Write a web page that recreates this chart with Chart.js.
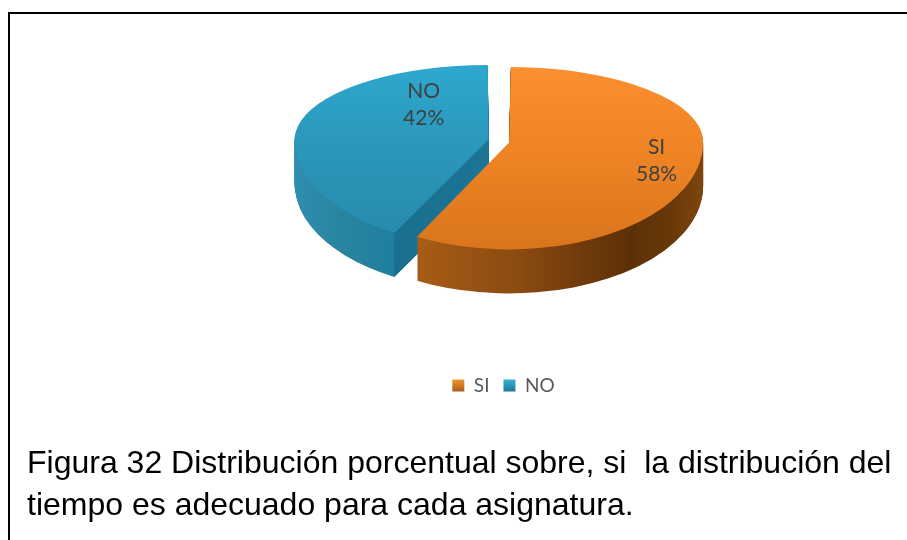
<!DOCTYPE html>
<html><head><meta charset="utf-8">
<style>
html,body{margin:0;padding:0;background:#fff;overflow:hidden}
#wrap{position:relative;width:907px;height:540px;overflow:hidden}
#frameTop{position:absolute;left:8px;top:12px;width:899px;height:2px;background:#000}
#frameLeft{position:absolute;left:8px;top:12px;width:2px;height:528px;background:#000}
canvas{position:absolute;left:0;top:0}
#caption{position:absolute;left:27px;top:441px;width:880px;font:32px/42px "Liberation Sans",Arial,sans-serif;color:#000;white-space:pre}
</style></head><body>
<div id="wrap">
<div id="frameTop"></div><div id="frameLeft"></div>
<canvas id="c" width="907" height="540"></canvas>
<div id="caption">Figura 32 Distribución porcentual sobre, si  la distribución del
tiempo es adecuado para cada asignatura.</div>
</div>
<script src="https://cdn.jsdelivr.net/npm/chart.js@4/dist/chart.umd.min.js"></script>
<script>
const categories = ['SI', 'NO'];
const percentValues = [58, 42];
const sliceOffsets = [37, 37];

// placement of the squashed pie on the page
const pie = {x: 499, y: 141, rx: 194, ryTop: 75, ryBottom: 107, depth: 44};
const labelPlace = [[0.76, 0.18], [-0.335, -0.48]];

function effRadius(el) {
  const fix = 1 - Math.sin(Math.min(Math.PI, el.circumference));
  return el.outerRadius + el.options.offset / 4 * fix;
}
function hGrad(ctx, el, stops) {
  const sx = pie.rx / effRadius(el);
  const mid = (el.startAngle + el.endAngle) / 2;
  const shift = Math.cos(mid) * el.options.offset / 4;
  const a = stops[0][0], b = stops[stops.length - 1][0];
  const g = ctx.createLinearGradient(el.x + (a - pie.x) / sx - shift, 0, el.x + (b - pie.x) / sx - shift, 0);
  stops.forEach(s => g.addColorStop((s[0] - a) / (b - a), s[1]));
  return g;
}
const sideStops = [
  [[417, '#a85c16'], [520, '#8a4a10'], [630, '#5c3007'], [670, '#683809'], [703, '#7e450e']],
  [[295, '#2f8db0'], [340, '#28859f'], [393, '#217f9f'], [395, '#1a6f8e'], [489, '#1d7494']]
];
function topFill(context) {
  const chart = context.chart, area = chart.chartArea;
  if (!area) return '#f79646';
  const g = chart.ctx.createLinearGradient(0, area.top, 0, area.bottom);
  if (context.dataIndex === 0) {
    g.addColorStop(0, '#fa9030'); g.addColorStop(0.55, '#ee8424'); g.addColorStop(1, '#d9741c');
  } else {
    g.addColorStop(0, '#2fa9d0'); g.addColorStop(1, '#2688a8');
  }
  return g;
}

const squash3D = {
  id: 'squash3D',
  beforeDatasetsDraw(chart) {
    const ctx = chart.ctx, arcs = chart.getDatasetMeta(0).data;
    const paint = (el, dy) => {
      const r = effRadius(el);
      const splitY = pie.y + dy;
      [[0, splitY, pie.ryTop], [splitY, 540 - splitY, pie.ryBottom]].forEach(([top, h, ry]) => {
        ctx.save();
        ctx.beginPath(); ctx.rect(0, top, 907, h); ctx.clip();
        ctx.translate(pie.x, splitY);
        ctx.scale(pie.rx / r, ry / r);
        ctx.translate(-el.x, -el.y);
        el.draw(ctx);
        ctx.restore();
      });
    };
    [1, 0].forEach(i => {
      const el = arcs[i], base = el.options;
      const side = Object.create(base);
      Object.defineProperty(side, 'backgroundColor', {value: hGrad(ctx, el, sideStops[i])});
      el.options = side;
      for (let d = pie.depth; d >= 1; d--) paint(el, d);
      el.options = base;
    });
    [1, 0].forEach(i => paint(arcs[i], 0));
    return false;
  },
  afterDraw(chart) {
    const ctx = chart.ctx, arcs = chart.getDatasetMeta(0).data;
    ctx.save();
    ctx.font = '21px Lato, sans-serif';
    ctx.fillStyle = '#404040';
    ctx.textAlign = 'center';
    ctx.textBaseline = 'middle';
    categories.forEach((name, i) => {
      const el = arcs[i], mid = (el.startAngle + el.endAngle) / 2;
      const cx = pie.x + Math.cos(mid) * el.options.offset / 4 * pie.rx / effRadius(el);
      const px = cx + labelPlace[i][0] * pie.rx;
      const py = pie.y + labelPlace[i][1] * (labelPlace[i][1] < 0 ? pie.ryTop : pie.ryBottom);
      ctx.fillText(name, px, py - 13.5);
      ctx.fillText(percentValues[i] + '%', px, py + 13.5);
    });
    ctx.restore();
  }
};

const lctx = document.getElementById('c').getContext('2d');
function legendFill(a, b) {
  const g = lctx.createLinearGradient(0, 379, 0, 392);
  g.addColorStop(0, a); g.addColorStop(1, b);
  return g;
}
const legendColors = [legendFill('#f5962f', '#a85c16'), legendFill('#36b3d8', '#1f7596')];

new Chart(lctx, {
  type: 'pie',
  data: {
    labels: categories,
    datasets: [{data: percentValues, backgroundColor: topFill, borderWidth: 0, offset: sliceOffsets}]
  },
  plugins: [squash3D],
  options: {
    responsive: false,
    animation: false,
    layout: {padding: {left: 100, right: 0, top: 0, bottom: 135}},
    plugins: {
      tooltip: {enabled: false},
      legend: {
        position: 'bottom',
        labels: {
          boxWidth: 12, boxHeight: 12, padding: 14,
          color: '#595959',
          font: {family: 'Lato, sans-serif', size: 19},
          generateLabels: chart => categories.map((t, i) => ({text: t, fillStyle: legendColors[i], strokeStyle: 'transparent', lineWidth: 0, index: i, fontColor: '#595959'}))
        }
      }
    }
  }
});
</script>
</body></html>
